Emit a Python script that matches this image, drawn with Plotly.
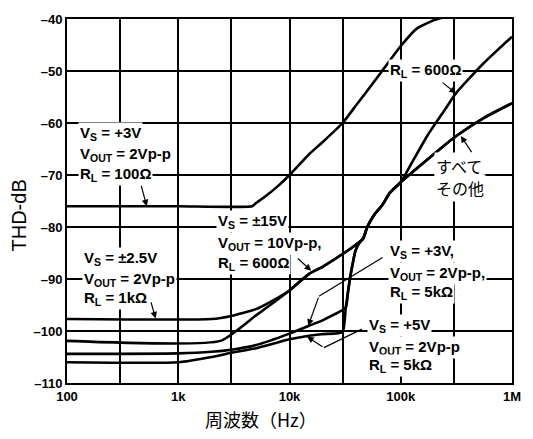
import plotly.graph_objects as go

# THD vs frequency
freq_3v_100 = [100, 1000, 4600, 5000, 6000, 8000, 10000, 15000, 20000, 30000, 40000, 50000,
               68000, 100000, 140000, 200000, 250000]
thd_3v_100 = [-76.0, -76.0, -76.0, -75.4, -74.2, -72.0, -70.0, -66.0, -63.6, -60.0, -56.5, -53.8,
              -50.0, -45.2, -41.8, -40.2, -39.6]

freq_pm15 = [100, 2400, 5000, 10000, 15000, 20000, 30000, 40000, 46000, 50000, 58000, 68000,
             80000, 100000, 130000, 174000, 250000, 313000, 550000, 1000000]
thd_pm15 = [-101.9, -101.9, -97.0, -92.2, -89.0, -87.6, -85.2, -83.3, -82.2, -80.0, -77.6, -75.8,
            -73.4, -71.4, -67.1, -62.4, -57.4, -54.3, -48.6, -43.4]

freq_pm25 = [100, 2000, 3000, 5000, 7000, 10000, 15000, 20000, 30000, 40000, 46000, 50000, 58000,
             68000, 80000, 100000, 130000, 174000, 240000, 320000, 560000, 1000000]
thd_pm25 = [-97.7, -97.7, -97.1, -95.8, -94.2, -92.2, -89.0, -87.6, -85.2, -83.3, -82.2, -80.0, -77.6,
            -75.8, -73.4, -71.4, -69.3, -67.0, -64.5, -62.4, -59.0, -56.2]

freq_3v_5k = [100, 1000, 2000, 3000, 5000, 10000, 15000, 20000, 32000, 33500, 35000, 37000, 39000,
              42000, 46000, 50000, 58000, 68000, 80000, 100000, 130000, 174000, 240000, 320000,
              560000, 1000000]
thd_3v_5k = [-104.4, -104.3, -104.0, -103.6, -102.7, -100.5, -99.0, -97.9, -95.5, -92.6, -89.8, -87.0,
             -84.7, -83.2, -82.2, -80.0, -77.6, -75.8, -73.4, -71.4, -69.3, -67.0, -64.5, -62.4,
             -59.0, -56.2]

freq_5v_5k = [100, 1000, 2000, 3000, 5000, 10000, 15000, 20000, 30000, 32000, 33500, 35000, 37000,
              39000, 42000, 46000]
thd_5v_5k = [-106.0, -106.0, -105.0, -104.2, -103.3, -101.6, -100.9, -100.6, -100.2, -95.5, -92.6,
             -89.8, -87.0, -84.7, -83.2, -82.2]

x_ticks = [100, 300, 1000, 3000, 10000, 30000, 100000, 300000, 1000000]
x_labels = ["100", "", "1k", "", "10k", "", "100k", "", "1M"]
y_ticks = [-110, -100, -90, -80, -70, -60, -50, -40]
y_labels = ["–110", "–100", "–90", "–80", "–70", "–60", "–50", "–40"]

curves = [
    (freq_3v_100, thd_3v_100),
    (freq_pm15, thd_pm15),
    (freq_pm25, thd_pm25),
    (freq_3v_5k, thd_3v_5k),
    (freq_5v_5k, thd_5v_5k),
]

fig = go.Figure()
for fx, fy in curves:
    fig.add_trace(go.Scatter(x=fx, y=fy, mode="lines",
                             line=dict(color="black", width=2.6, shape="spline", smoothing=0.5),
                             showlegend=False, hoverinfo="skip"))

lab_font = dict(family="Liberation Sans, Arial, sans-serif", size=15, color="black", weight="bold")
jp_font = dict(family="Noto Sans CJK JP, sans-serif", size=16, color="black")


def add_text(x, y, text, font=lab_font):
    fig.add_annotation(x=x, y=y, xref="x", yref="y", text=text, showarrow=False,
                       xanchor="left", yanchor="middle", font=font,
                       bgcolor="white", borderpad=1)


def add_arrow(x, y, ax, ay, head=2):
    fig.add_annotation(x=x, y=y, ax=ax, ay=ay, xref="x", yref="y", axref="x", ayref="y",
                       text="", showarrow=True, arrowhead=head, arrowsize=1.1,
                       arrowwidth=1.2, arrowcolor="black", standoff=0, startstandoff=0)


# Vs=+3V, RL=100
add_text(2.097, -62.1, "V<sub>S</sub> = +3V")
add_text(2.097, -66.1, "V<sub>OUT</sub> = 2Vp-p")
add_text(2.097, -69.9, "R<sub>L</sub> = 100Ω")
add_arrow(2.717, -76.0, 2.664, -71.8)

# RL=600 (upper right)
add_text(4.885, -49.9, "R<sub>L</sub> = 600Ω")
add_arrow(5.496, -54.3, 5.363, -52.0)

# all others
add_text(5.30, -68.2, "すべて", jp_font)
add_text(5.30, -72.5, "その他", jp_font)
add_arrow(5.54, -62.5, 5.646, -65.9)

# Vs=±15V
add_text(3.336, -79.0, "V<sub>S</sub> = ±15V")
add_text(3.336, -83.2, "V<sub>OUT</sub> = 10Vp-p,")
add_text(3.336, -87.0, "R<sub>L</sub> = 600Ω")
add_arrow(4.195, -88.4, 4.062, -85.8)

# Vs=±2.5V
add_text(2.133, -86.0, "V<sub>S</sub> = ±2.5V")
add_text(2.133, -90.0, "V<sub>OUT</sub> = 2Vp-p")
add_text(2.133, -93.8, "R<sub>L</sub> = 1kΩ")
add_arrow(2.796, -97.6, 2.752, -94.2)

# Vs=+3V, RL=5k
add_text(4.885, -84.7, "V<sub>S</sub> = +3V,")
add_text(4.885, -88.9, "V<sub>OUT</sub> = 2Vp-p,")
add_text(4.885, -92.5, "R<sub>L</sub> = 5kΩ")
add_arrow(4.265, -93.3, 4.85, -85.7, head=0)
add_arrow(4.168, -99.0, 4.265, -93.3)

# Vs=+5V, RL=5k
add_text(4.699, -99.0, "V<sub>S</sub> = +5V")
add_text(4.699, -103.2, "V<sub>OUT</sub> = 2Vp-p")
add_text(4.699, -106.6, "R<sub>L</sub> = 5kΩ")
add_arrow(4.31, -103.2, 4.664, -99.5, head=0)
add_arrow(4.159, -101.1, 4.31, -103.2)

# axis titles
fig.add_annotation(x=0.437, y=-0.10, xref="paper", yref="paper", text="周波数（Hz）",
                   showarrow=False, xanchor="center", yanchor="middle",
                   font=dict(family="Noto Sans CJK JP, sans-serif", size=18, color="black"))
fig.add_annotation(x=-0.108, y=0.46, xref="paper", yref="paper", text="THD-dB", textangle=-90,
                   showarrow=False, xanchor="center", yanchor="middle",
                   font=dict(family="Liberation Sans, Arial, sans-serif", size=20, color="black"))

tick_font = dict(family="Liberation Sans, Arial, sans-serif", size=13, color="black", weight="bold")

fig.update_layout(
    width=533, height=439,
    margin=dict(l=67, r=13, t=15, b=56),
    plot_bgcolor="white", paper_bgcolor="white",
    xaxis=dict(type="log", range=[2, 6], tickvals=x_ticks, ticktext=x_labels,
               showgrid=True, gridcolor="black", gridwidth=1.5, zeroline=False,
               showline=True, linecolor="black", linewidth=2, mirror=True, ticks="",
               tickfont=tick_font, ticklabeloverflow="allow"),
    yaxis=dict(range=[-110, -40], tickvals=y_ticks, ticktext=y_labels,
               showgrid=True, gridcolor="black", gridwidth=1.5, zeroline=False,
               showline=True, linecolor="black", linewidth=2, mirror=True, ticks="",
               tickfont=tick_font),
)

# drop the default page margin so the figure sits at the window's top-left corner
fig.write_html("out.html", config={"displayModeBar": False},
               post_script="document.body.style.margin='0';")
